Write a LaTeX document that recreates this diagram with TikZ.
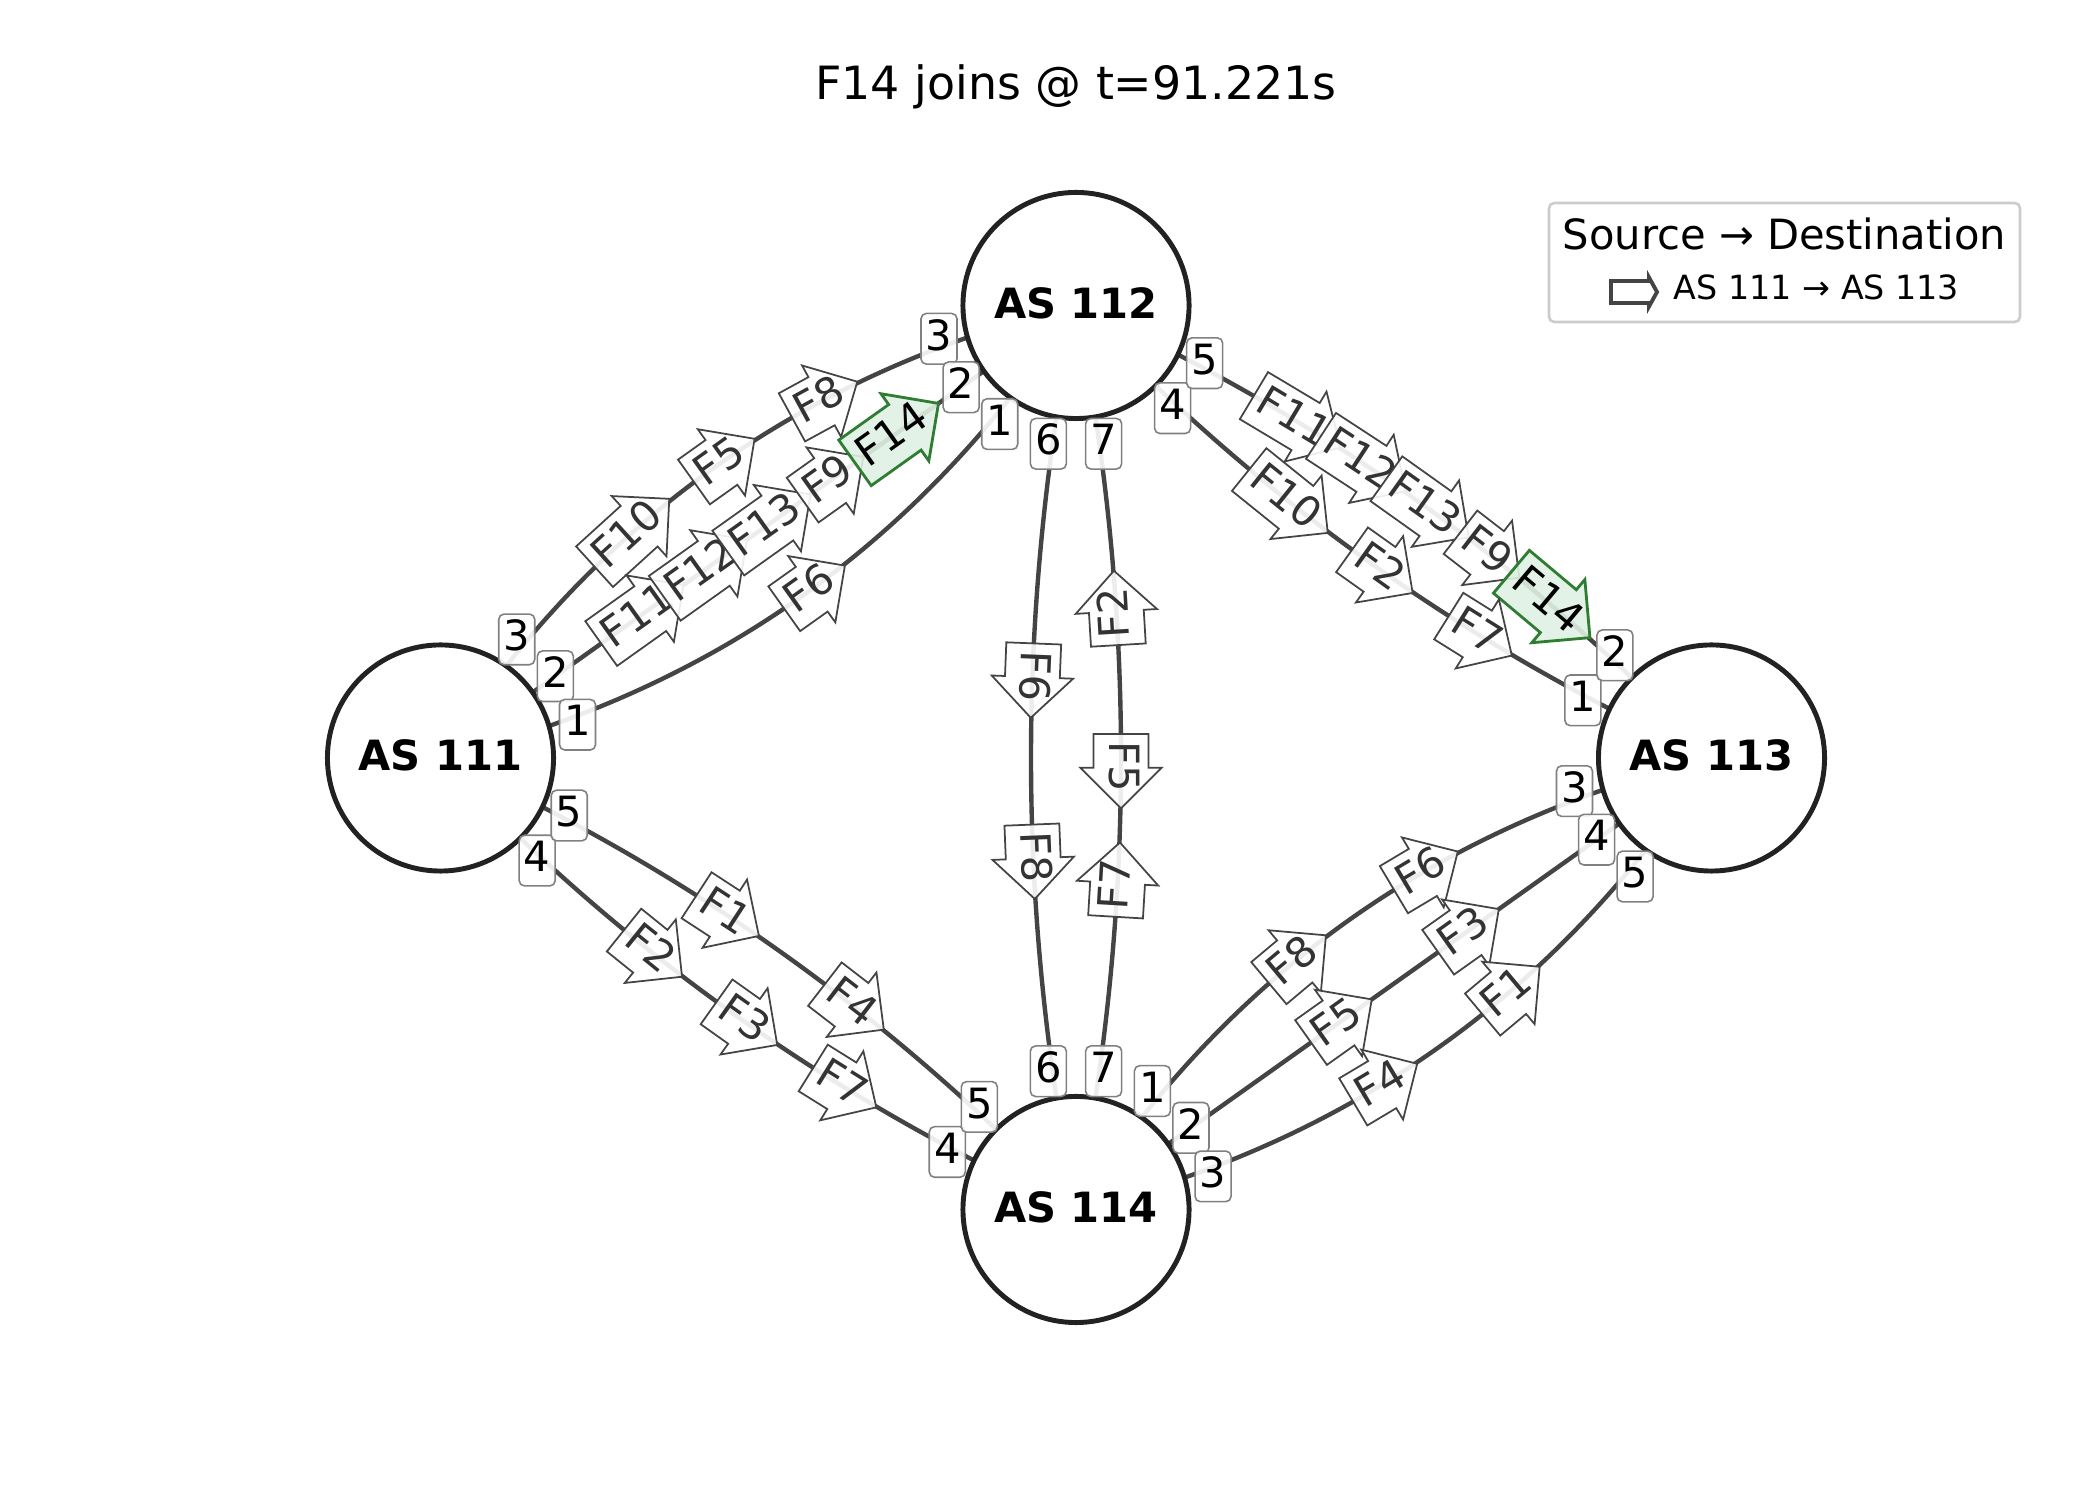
\documentclass[tikz,border=0pt]{standalone}
\usepackage{fontspec}
\setmainfont{DejaVu Sans}
\usetikzlibrary{shapes.arrows,calc,backgrounds}

\definecolor{edgecol}{HTML}{444444}
\definecolor{ringcol}{HTML}{222222}
\definecolor{portcol}{HTML}{808080}
\definecolor{flowcol}{HTML}{444444}
\definecolor{flowtxt}{HTML}{333333}
\definecolor{joincol}{HTML}{2E7D32}
\definecolor{joinfill}{HTML}{DFF1E3}
\definecolor{legcol}{HTML}{CCCCCC}

\begin{document}
\begin{tikzpicture}[x=0.01cm,y=0.01cm,
    asnode/.style={circle,draw=ringcol,line width=1.4pt,fill=white,minimum size=22.6mm,
      inner sep=0pt,text depth=1.6pt,font=\fontsize{11.85}{14}\selectfont\bfseries},
    edge/.style={draw=edgecol,line width=1.25pt},
    bigleft/.style={bend left=21.8,looseness=.917},
    bigright/.style={bend right=21.8,looseness=.917},
    smallleft/.style={bend left=11.31,looseness=.868},
    smallright/.style={bend right=11.31,looseness=.868},
    flow/.style={single arrow,draw=flowcol,line width=.5pt,fill=white,fill opacity=.9,
      text opacity=1,text=flowtxt,font=\fontsize{11.85}{14}\selectfont,
      single arrow tip angle=90,single arrow head extend=3.78pt,
      inner xsep=1.78pt,inner ysep=1.78pt,text height=9.14pt,text depth=2.4pt,
      minimum height=0pt,minimum width=0pt,sloped,allow upside down},
    joinflow/.style={flow,draw=joincol,fill=joinfill,line width=.8pt,text=black},
    port/.style={draw=portcol,line width=.45pt,rounded corners=1.5pt,fill=white,
      fill opacity=.9,text opacity=1,inner xsep=1.35pt,inner ysep=0pt,
      text height=10.4pt,text depth=4pt,font=\fontsize{11.85}{14}\selectfont}]
  \def\flowlbl#1{\rlap{#1}\hphantom{#1}\kern-5.05pt}
  \def\pd{141}

\useasboundingbox (0,0) rectangle (2100,1500);

\node[anchor=base,font=\fontsize{13.04}{16}\selectfont] (title) at (1076,1400)
    {F14 joins @ t=91.221s};

\node[asnode] (n111) at (440.5,742) {AS 111};
\node[asnode] (n112) at (1076,1194.5) {AS 112};
\node[asnode] (n113) at (1711.5,742) {AS 113};
\node[asnode] (n114) at (1076,290.5) {AS 114};

\begin{scope}[on background layer]
    % AS 111 -- AS 112
    \draw[edge] (n111.center) to[bigleft]
        node[flow,pos=.35] {\flowlbl{F10}}
        node[flow,pos=.5] {\flowlbl{F5}}
        node[flow,pos=.65] {\flowlbl{F8}} (n112.center);
    \draw[edge] (n111.center) to
        node[flow,pos=.3] {\flowlbl{F11}}
        node[flow,pos=.4] {\flowlbl{F12}}
        node[flow,pos=.5] {\flowlbl{F13}}
        node[flow,pos=.6] {\flowlbl{F9}}
        node[joinflow,pos=.7] {\flowlbl{F14}} (n112.center);
    \draw[edge] (n111.center) to[bigright]
        node[flow,pos=.5] {\flowlbl{F6}} (n112.center);
    % AS 112 -- AS 113
    \draw[edge] (n112.center) to[smallleft]
        node[flow,pos=.3] {\flowlbl{F11}}
        node[flow,pos=.4] {\flowlbl{F12}}
        node[flow,pos=.5] {\flowlbl{F13}}
        node[flow,pos=.6] {\flowlbl{F9}}
        node[joinflow,pos=.7] {\flowlbl{F14}} (n113.center);
    \draw[edge] (n112.center) to[smallright]
        node[flow,pos=.35] {\flowlbl{F10}}
        node[flow,pos=.5] {\flowlbl{F2}}
        node[flow,pos=.65] {\flowlbl{F7}} (n113.center);
    % AS 112 -- AS 114
    \draw[edge] (n112.center) to[smallright]
        node[flow,pos=.4] {\flowlbl{F6}}
        node[flow,pos=.6] {\flowlbl{F8}} (n114.center);
    \draw[edge] (n112.center) to[smallleft]
        node[flow,pos=.35,rotate=180] {\flowlbl{F2}}
        node[flow,pos=.5] {\flowlbl{F5}}
        node[flow,pos=.65,rotate=180] {\flowlbl{F7}} (n114.center);
    % AS 111 -- AS 114
    \draw[edge] (n111.center) to[smallleft]
        node[flow,pos=.4] {\flowlbl{F1}}
        node[flow,pos=.6] {\flowlbl{F4}} (n114.center);
    \draw[edge] (n111.center) to[smallright]
        node[flow,pos=.35] {\flowlbl{F2}}
        node[flow,pos=.5] {\flowlbl{F3}}
        node[flow,pos=.65] {\flowlbl{F7}} (n114.center);
    % AS 114 -- AS 113
    \draw[edge] (n114.center) to[bigleft]
        node[flow,pos=.4] {\flowlbl{F8}}
        node[flow,pos=.6] {\flowlbl{F6}} (n113.center);
    \draw[edge] (n114.center) to
        node[flow,pos=.4] {\flowlbl{F5}}
        node[flow,pos=.6] {\flowlbl{F3}} (n113.center);
    \draw[edge] (n114.center) to[bigright]
        node[flow,pos=.4] {\flowlbl{F4}}
        node[flow,pos=.6] {\flowlbl{F1}} (n113.center);
\end{scope}

% port numbers
\foreach \a/\t in {57.26/3,35.46/2,13.66/1,-46.7/4,-24.08/5}
    \node[port] (p111-\t) at ($(n111)+(\a:\pd)$) {\t};
\foreach \a/\t in {193.66/3,215.46/2,237.26/1,-101.31/6,-78.69/7,-46.77/4,-24.15/5}
    \node[port] (p112-\t) at ($(n112)+(\a:\pd)$) {\t};
\foreach \a/\t in {155.85/1,133.23/2,193.59/3,215.39/4,237.19/5}
    \node[port] (p113-\t) at ($(n113)+(\a:\pd)$) {\t};
\foreach \a/\t in {155.92/4,133.3/5,101.31/6,78.69/7,57.19/1,35.39/2,13.59/3}
    \node[port] (p114-\t) at ($(n114)+(\a:\pd)$) {\t};

% legend
\draw[legcol,line width=.75pt,fill=white,rounded corners=1.5pt]
    (1549,1178) rectangle (2020,1297);
\node[anchor=base,font=\fontsize{11.85}{14}\selectfont] (legtitle) at (1784.5,1250.5)
    {Source → Destination};
\draw[flowcol,line width=1.1pt,line join=miter]
    (1611,1197) -- (1649,1197) -- (1649,1193.5) -- (1657,1208)
    -- (1649,1222.5) -- (1649,1219) -- (1611,1219) -- cycle;
\node[anchor=base west,inner sep=0pt,font=\fontsize{9.48}{11}\selectfont] (legitem)
    at (1673,1200) {AS 111 → AS 113};

\end{tikzpicture}
\end{document}
